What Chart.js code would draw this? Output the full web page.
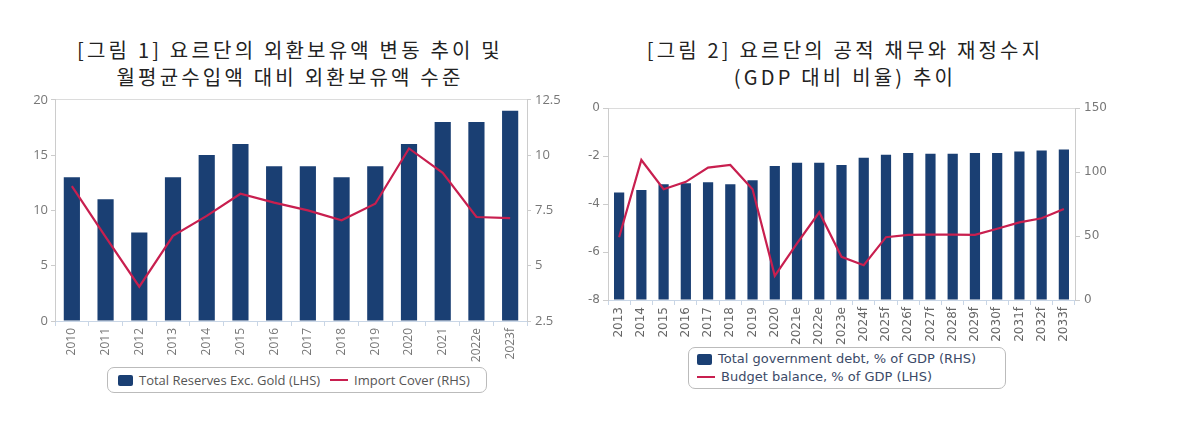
<!DOCTYPE html>
<html><head><meta charset="utf-8">
<script src="https://cdn.jsdelivr.net/npm/chart.js@4"></script>
<style>
body{margin:0;background:#fff;width:1194px;height:445px;overflow:hidden;position:relative;}
.title{position:absolute;text-align:center;font-family:'Noto Sans CJK KR';font-size:20px;color:#222;letter-spacing:3.2px;line-height:27px;white-space:nowrap;}
canvas{position:absolute;}
.legend{position:absolute;border:1px solid #bbb;border-radius:7px;background:#fff;box-sizing:border-box;white-space:nowrap;}
.legend .row{display:flex;align-items:center;}
.sw{display:inline-block;width:15px;height:11px;border-radius:2px;background:#1a3f73;margin-right:6px;}
.ln{display:inline-block;width:18px;height:2px;background:#c81f4f;margin-right:6px;}
#lg1{left:107px;top:367px;width:380px;height:26px;padding:3px 10px;font-family:'Open Sans';font-size:13px;color:#555;}
#lg2{left:688px;top:347px;width:318px;height:42px;padding:2px 8px;font-family:'DejaVu Sans';font-size:13px;color:#3b4a68;line-height:18px;}
</style></head>
<body>
<div class="title" style="left:0;width:580px;top:36px;">[그림 1] 요르단의 외환보유액 변동 추이 및<br>월평균수입액 대비 외환보유액 수준</div>
<div class="title" style="left:590px;width:510px;top:36px;">[그림 2] 요르단의 공적 채무와 재정수지<br>(GDP 대비 비율) 추이</div>
<canvas id="c1" width="560" height="280" style="left:20px;top:88px;width:560px;height:280px;"></canvas>
<canvas id="c2" width="560" height="255" style="left:580px;top:97px;width:560px;height:255px;"></canvas>
<div class="legend" id="lg1"><div class="row"><span class="sw"></span><span>Total Reserves Exc. Gold (LHS)</span><span style="width:10px"></span><span class="ln"></span><span>Import Cover (RHS)</span></div></div>
<div class="legend" id="lg2"><div class="row"><span class="sw"></span><span>Total government debt, % of GDP (RHS)</span></div><div class="row"><span class="ln"></span><span>Budget balance, % of GDP (LHS)</span></div></div>
<script>
// ---- Figure 1 data ----
const fig1Categories = ['2010','2011','2012','2013','2014','2015','2016','2017','2018','2019','2020','2021','2022e','2023f'];
const fig1Reserves = [13,11,8,13,15,16,14,14,13,14,16,18,18,19];
const fig1ImportCover = [8.6,6.3,4.05,6.35,7.25,8.25,7.85,7.5,7.05,7.8,10.3,9.2,7.2,7.15];
const fig1LeftTicks = [0,5,10,15,20];
const fig1RightTicks = [2.5,5,7.5,10,12.5];
const fig1Labels = ['Total Reserves Exc. Gold (LHS)','Import Cover (RHS)'];

// ---- Figure 2 data ----
const fig2Categories = ['2013','2014','2015','2016','2017','2018','2019','2020','2021e','2022e','2023e','2024f','2025f','2026f','2027f','2028f','2029f','2030f','2031f','2032f','2033f'];
const fig2Debt = [84,86,90.5,91.3,92,90.5,93.6,104.7,107.3,107.3,105.5,111.2,113.5,115,114.3,114.3,115,115,116.1,116.9,117.7];
const fig2Balance = [-5.38,-2.16,-3.38,-3.07,-2.48,-2.37,-3.38,-6.99,-5.64,-4.34,-6.2,-6.55,-5.38,-5.28,-5.27,-5.27,-5.28,-5.03,-4.76,-4.59,-4.2];
const fig2LeftTicks = [-8,-6,-4,-2,0];
const fig2RightTicks = [0,50,100,150];
const fig2Labels = ['Total government debt, % of GDP (RHS)','Budget balance, % of GDP (LHS)'];

const NAVY = '#1a3f73', RED = '#c81f4f';

function fixedTicks(list){ return function(axis){ axis.ticks = list.map(v=>({value:v})); }; }

new Chart(document.getElementById('c1'), {
  data: {
    labels: fig1Categories,
    datasets: [
      {type:'line', label:fig1Labels[1], data:fig1ImportCover, yAxisID:'y1', borderColor:RED, borderWidth:2.2, pointRadius:0, tension:0, order:0},
      {type:'bar', label:fig1Labels[0], data:fig1Reserves, yAxisID:'y', backgroundColor:NAVY, categoryPercentage:1, barPercentage:0.48, order:1}
    ]
  },
  options: {
    responsive:false, animation:false, devicePixelRatio:1,
    layout:{padding:{top:10,left:0,right:0,bottom:0}},
    plugins:{legend:{display:false}, tooltip:{enabled:false}},
    scales:{
      x:{
        grid:{drawOnChartArea:false, color:'#c9d6e6', tickLength:5, offset:true},
        border:{color:'#c9d6e6'},
        ticks:{minRotation:90, maxRotation:90, autoSkip:false, color:'#777', font:{family:'Open Sans', size:12}, padding:2},
        afterFit:(s)=>{s.height=47;}
      },
      y:{
        position:'left', min:0, max:20,
        afterBuildTicks: fixedTicks(fig1LeftTicks),
        grid:{color:(c)=>c.tick && c.tick.value===20 ? '#dcdcdc':'rgba(0,0,0,0)', tickColor:'#cccccc', tickLength:4},
        border:{color:'#cccccc'},
        ticks:{color:'#777', font:{family:'Open Sans', size:13}, padding:3},
        afterFit:(s)=>{s.width=35;}
      },
      y1:{
        position:'right', min:2.5, max:12.5,
        afterBuildTicks: fixedTicks(fig1RightTicks),
        grid:{drawOnChartArea:false, tickColor:'#cccccc', tickLength:4},
        border:{color:'#cccccc'},
        ticks:{color:'#777', font:{family:'Open Sans', size:13}, padding:4},
        afterFit:(s)=>{s.width=53;}
      }
    }
  }
});

new Chart(document.getElementById('c2'), {
  data: {
    labels: fig2Categories,
    datasets: [
      {type:'line', label:fig2Labels[1], data:fig2Balance, yAxisID:'y', borderColor:RED, borderWidth:2.2, pointRadius:0, tension:0, order:0},
      {type:'bar', label:fig2Labels[0], data:fig2Debt, yAxisID:'y1', backgroundColor:NAVY, categoryPercentage:1, barPercentage:0.46, order:1}
    ]
  },
  options: {
    responsive:false, animation:false, devicePixelRatio:1,
    layout:{padding:{top:10,left:0,right:0,bottom:0}},
    plugins:{legend:{display:false}, tooltip:{enabled:false}},
    scales:{
      x:{
        grid:{drawOnChartArea:false, color:'#c9d6e6', tickLength:5, offset:true},
        border:{color:'#c9d6e6'},
        ticks:{minRotation:90, maxRotation:90, autoSkip:false, color:'#666', font:{family:'DejaVu Sans', size:12}, padding:2},
        afterFit:(s)=>{s.height=52;}
      },
      y:{
        position:'left', min:-8, max:0,
        afterBuildTicks: fixedTicks(fig2LeftTicks),
        grid:{color:(c)=>c.tick && c.tick.value===0 ? '#dcdcdc':'rgba(0,0,0,0)', tickColor:'#cccccc', tickLength:5},
        border:{color:'#cccccc'},
        ticks:{color:'#777', font:{family:'DejaVu Sans', size:12}, padding:3},
        afterFit:(s)=>{s.width=28;}
      },
      y1:{
        position:'right', min:0, max:150,
        afterBuildTicks: fixedTicks(fig2RightTicks),
        grid:{drawOnChartArea:false, tickColor:'#cccccc', tickLength:5},
        border:{color:'#cccccc'},
        ticks:{color:'#777', font:{family:'DejaVu Sans', size:12}, padding:4},
        afterFit:(s)=>{s.width=65;}
      }
    }
  }
});
</script>
</body></html>
